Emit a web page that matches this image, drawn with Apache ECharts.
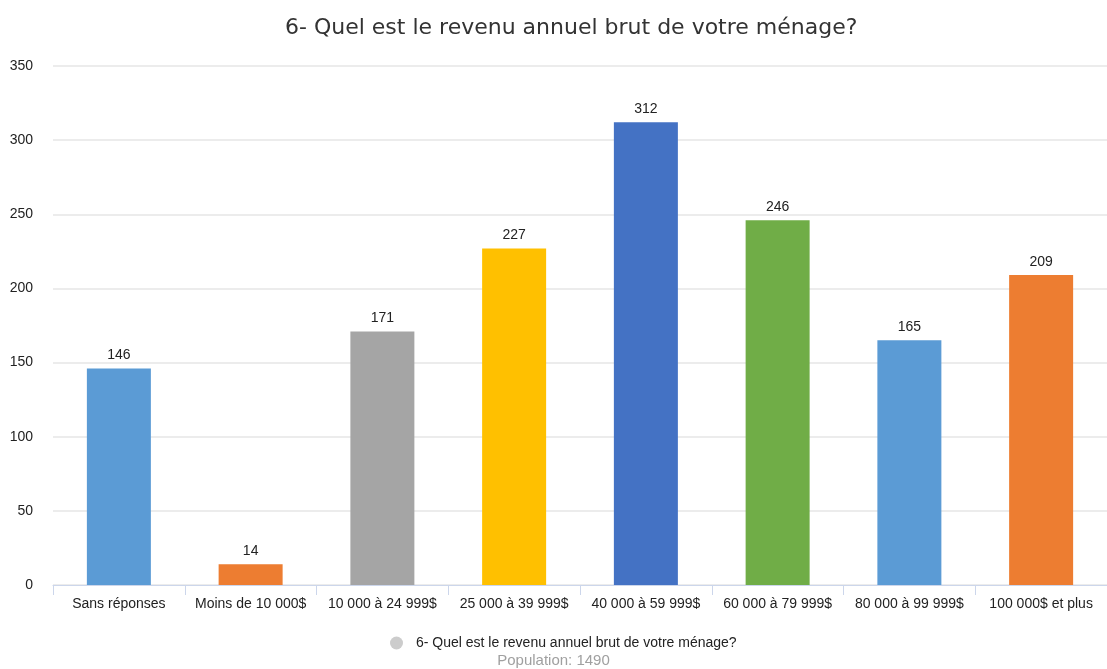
<!DOCTYPE html>
<html>
<head>
<meta charset="utf-8">
<script src="https://cdn.jsdelivr.net/npm/echarts@6/dist/echarts.min.js"></script>
<style>
  html, body { margin: 0; padding: 0; background: #fff; }
  #chart { width: 1107px; height: 669px; }
</style>
</head>
<body>
<div id="chart"></div>
<script>
// données
const categories = [
  'Sans réponses',
  'Moins de 10 000$',
  '10 000 à 24 999$',
  '25 000 à 39 999$',
  '40 000 à 59 999$',
  '60 000 à 79 999$',
  '80 000 à 99 999$',
  '100 000$ et plus',
]
const values = [146, 14, 171, 227, 312, 246, 165, 209]
const barColors = ['#5b9bd5', '#ed7d31', '#a5a5a5', '#ffc000', '#4472c4', '#70ad47', '#5b9bd5', '#ed7d31']
const seriesName = '6- Quel est le revenu annuel brut de votre ménage?'
const population = 1490

const chart = echarts.init(document.getElementById('chart'))

const option = {
  animation: false,
  title: [
    {
      text: seriesName,
      left: 280,
      top: 12,
      textStyle: {
        fontFamily: 'DejaVu Sans',
        fontSize: 22,
        fontWeight: 'normal',
        color: '#333',
      },
    },
    {
      text: 'Population: ' + population,
      left: 'center',
      bottom: -4,
      textStyle: {
        fontFamily: 'Liberation Sans',
        fontSize: 15,
        fontWeight: 'normal',
        color: '#a0a0a0',
      },
    },
  ],
  legend: {
    bottom: 14,
    left: 385,
    icon: 'circle',
    itemWidth: 13,
    itemHeight: 13,
    itemGap: 10,
    textStyle: {
      fontFamily: 'Liberation Sans',
      fontSize: 14,
      color: '#222',
      padding: [0, 0, 0, 8],
    },
    data: [{ name: seriesName, itemStyle: { color: '#cccccc' } }],
  },
  grid: {
    left: 53,
    right: -7,
    top: 66,
    bottom: 84,
    containLabel: false,
  },
  xAxis: {
    type: 'category',
    data: categories,
    axisLine: { lineStyle: { color: '#ccd6eb' } },
    axisTick: { show: true, length: 10, lineStyle: { color: '#ccd6eb' } },
    axisLabel: {
      interval: 0,
      margin: 12,
      fontFamily: 'Liberation Sans',
      fontSize: 14,
      color: '#222',
    },
  },
  yAxis: {
    type: 'value',
    min: 0,
    max: 350,
    interval: 50,
    axisLine: { show: false },
    axisTick: { show: false },
    axisLabel: {
      margin: 20,
      fontFamily: 'Liberation Sans',
      fontSize: 14,
      color: '#222',
    },
    splitLine: { lineStyle: { color: '#e6e6e6', width: 1.5 } },
  },
  series: [
    {
      name: seriesName,
      type: 'bar',
      barWidth: 64,
      data: values.map((v, i) => ({ value: v, itemStyle: { color: barColors[i] } })),
      label: {
        show: true,
        position: 'top',
        distance: 6,
        fontFamily: 'Liberation Sans',
        fontSize: 14,
        color: '#222',
      },
    },
  ],
}

chart.setOption(option)
</script>
</body>
</html>
